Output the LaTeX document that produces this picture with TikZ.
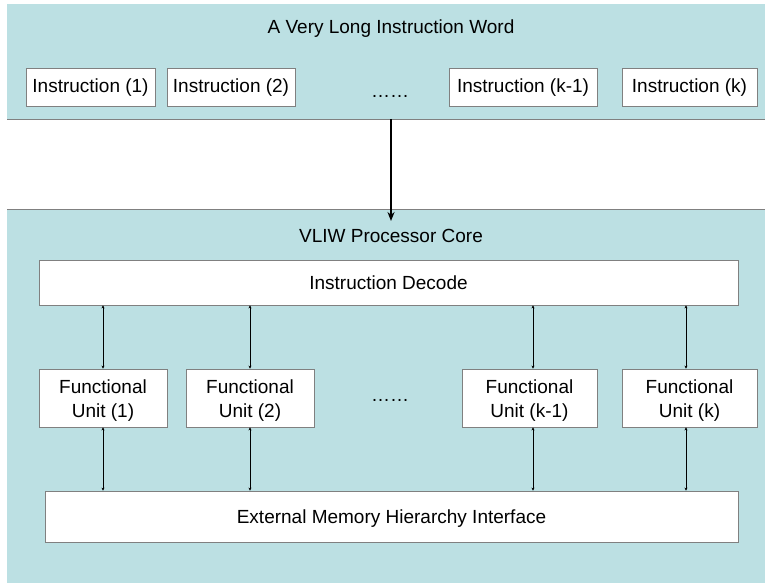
\documentclass[tikz,border=0pt]{standalone}
\usepackage{fontspec}
\setmainfont{Liberation Sans}
\usetikzlibrary{arrows.meta}
\definecolor{bandfill}{RGB}{188,224,227}
\definecolor{edgegray}{RGB}{128,128,128}
\tikzset{
  band/.style={fill=bandfill, draw=none, inner sep=0pt, anchor=north west},
  % text boxes: capital letters are centred on the node centre
  unitbox/.style={draw=edgegray, fill=white, line width=0.8pt, inner sep=0pt,
    font=\fontsize{19}{22}\selectfont, text height=14pt, text depth=0pt},
  twoline/.style={align=center, font=\fontsize{19}{24}\selectfont,
    text height=38pt, text depth=0pt},
  label/.style={font=\fontsize{19}{22}\selectfont, inner sep=0pt,
    text height=14pt, text depth=0pt},
  link/.style={line width=0.9pt, {Stealth[length=3pt,width=3pt]}-{Stealth[length=3pt,width=3pt]}},
  issue/.style={line width=1.8pt, -{Stealth[length=9pt,width=7pt]}}
}
\begin{document}
\begin{tikzpicture}[x=1pt,y=-1pt]
\useasboundingbox (0,0) rectangle (765,583);
\fill[white] (0,0) rectangle (765,583);

% instruction word band
\node[band, minimum width=758pt, minimum height=115pt] (word) at (7,4) {};
\draw[edgegray, line width=0.9pt] (word.south west) -- (word.south east);
% processor core band
\node[band, minimum width=758pt, minimum height=374pt] (core) at (7,209) {};
\draw[edgegray, line width=0.9pt] (core.north west) -- (core.north east);

\node[label] (wordtitle) at (391,27) {A Very Long Instruction Word};
\node[unitbox, text depth=2pt, minimum width=129pt, minimum height=38pt] (i1) at (90.5,87) {Instruction (1)};
\node[unitbox, text depth=2pt, minimum width=128pt, minimum height=38pt] (i2) at (231,87) {Instruction (2)};
\node[label] (idots) at (390,91) {……};
\node[unitbox, text depth=2pt, minimum width=148pt, minimum height=38pt] (ik1) at (523,87) {Instruction (k-1)};
\node[unitbox, text depth=2pt, minimum width=135pt, minimum height=38pt] (ik) at (689.5,87) {Instruction (k)};

% issue arrow into the core
\coordinate (issuefrom) at (391,119);
\coordinate (issueto) at (391,221);
\draw[issue] (issuefrom) -- (issueto);

\node[label] (coretitle) at (391,235) {VLIW Processor Core};
\node[unitbox, minimum width=699pt, minimum height=45pt] (dec) at (388.5,282.5) {Instruction Decode};

\node[unitbox, twoline, minimum width=128pt, minimum height=58pt] (fu1) at (103,398) {Functional\\Unit (1)};
\node[unitbox, twoline, minimum width=128pt, minimum height=58pt] (fu2) at (250,398) {Functional\\Unit (2)};
\node[label] (fudots) at (390,394) {……};
\node[unitbox, twoline, minimum width=135pt, minimum height=58pt] (fuk1) at (529.5,398) {Functional\\Unit (k-1)};
\node[unitbox, twoline, minimum width=135pt, minimum height=58pt] (fuk) at (689.5,398) {Functional\\Unit (k)};

\node[unitbox, minimum width=693pt, minimum height=51pt] (mem) at (391.5,516.5) {External Memory Hierarchy Interface};

% decode <-> units
\draw[link] (fu1.north) -- (fu1.north |- dec.south);
\draw[link] (fu2.north) -- (fu2.north |- dec.south);
\draw[link] ([xshift=3.5pt]fuk1.north) -- ([xshift=3.5pt]fuk1.north |- dec.south);
\draw[link] ([xshift=-3.5pt]fuk.north) -- ([xshift=-3.5pt]fuk.north |- dec.south);
% units <-> memory
\draw[link] (fu1.south) -- (fu1.south |- mem.north);
\draw[link] (fu2.south) -- (fu2.south |- mem.north);
\draw[link] ([xshift=3.5pt]fuk1.south) -- ([xshift=3.5pt]fuk1.south |- mem.north);
\draw[link] ([xshift=-3.5pt]fuk.south) -- ([xshift=-3.5pt]fuk.south |- mem.north);
\end{tikzpicture}
\end{document}
